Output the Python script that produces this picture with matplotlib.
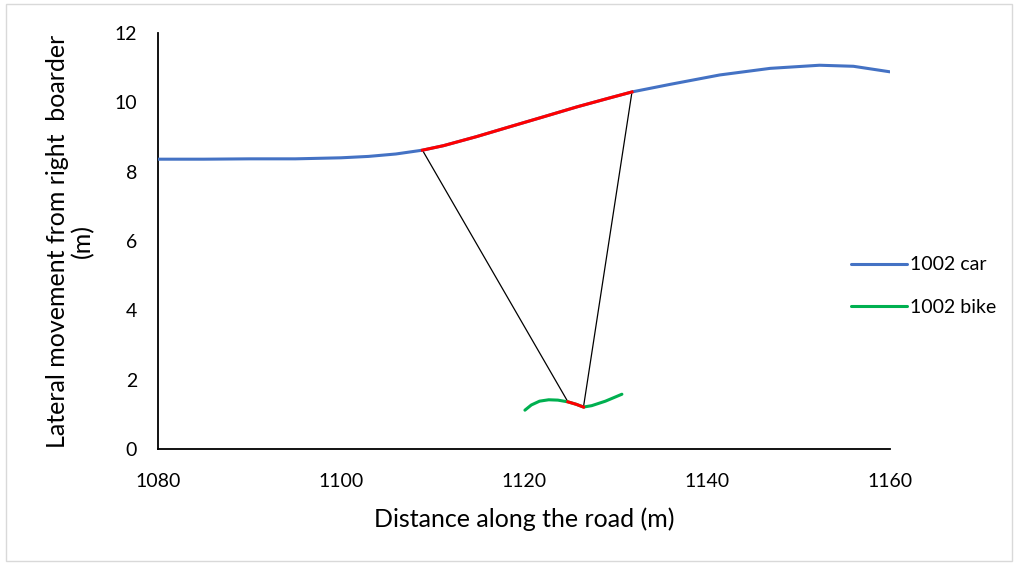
import matplotlib
matplotlib.use('Agg')
import matplotlib.pyplot as plt
from matplotlib.lines import Line2D
from matplotlib.patches import Rectangle

plt.rcParams['font.family'] = ['Lato', 'DejaVu Sans']

# 1002 car trajectory (distance, lateral position)
car_x = [1080, 1085, 1090, 1095, 1100, 1103, 1106, 1108.9, 1111.2, 1114.8, 1118.5, 1122.1,
         1125.8, 1129.4, 1131.8, 1136.0, 1141.4, 1146.9, 1152.3, 1156.0, 1160]
car_y = [8.36, 8.36, 8.37, 8.37, 8.40, 8.44, 8.51, 8.62, 8.75, 9.01, 9.30, 9.58,
         9.87, 10.13, 10.30, 10.52, 10.79, 10.98, 11.07, 11.04, 10.88]

# part of the car path in conflict (red)
car_conf_x = [1108.9, 1111.2, 1114.8, 1118.5, 1122.1, 1125.8, 1129.4, 1131.8]
car_conf_y = [8.62, 8.75, 9.01, 9.30, 9.58, 9.87, 10.13, 10.30]

# 1002 bike trajectory
bike_x = [1120.1, 1120.8, 1121.7, 1122.7, 1123.7, 1124.8, 1125.7, 1126.5, 1127.4, 1128.9, 1130.7]
bike_y = [1.12, 1.27, 1.38, 1.42, 1.41, 1.36, 1.29, 1.21, 1.25, 1.38, 1.58]

bike_conf_x = [1124.8, 1125.7, 1126.5]
bike_conf_y = [1.36, 1.29, 1.21]

# connection lines between car and bike conflict points
link_start = [(1108.9, 8.62), (1131.8, 10.30)]
link_end = [(1124.8, 1.36), (1126.5, 1.21)]

blue = '#4472C4'
green = '#00B050'
red = '#FF0000'

fig = plt.figure(figsize=(10.16, 5.64), dpi=100)
ax = fig.add_axes([158/1016, 1 - 449/564, (890-158)/1016, (449-33)/564])

ax.plot(car_x, car_y, color=blue, lw=2.2, solid_capstyle='round', solid_joinstyle='round', zorder=3)
ax.plot(bike_x, bike_y, color=green, lw=2.2, solid_capstyle='round', solid_joinstyle='round', zorder=3)
ax.plot(car_conf_x, car_conf_y, color=red, lw=2.2, solid_joinstyle='round', zorder=4)
ax.plot(bike_conf_x, bike_conf_y, color=red, lw=2.2, solid_joinstyle='round', zorder=4)
for (x0, y0), (x1, y1) in zip(link_start, link_end):
    ax.plot([x0, x1], [y0, y1], color='black', lw=0.9, zorder=2)

ax.set_xlim(1080, 1160)
ax.set_ylim(0, 12)
ax.set_xticks([1080, 1100, 1120, 1140, 1160])
ax.set_yticks([0, 2, 4, 6, 8, 10, 12])
ax.spines['top'].set_visible(False)
ax.spines['right'].set_visible(False)
ax.spines['left'].set_linewidth(1.3)
ax.spines['bottom'].set_linewidth(1.3)
ax.tick_params(axis='x', length=0, pad=17, labelsize=14)
ax.tick_params(axis='y', length=0, pad=15, labelsize=14)

ax.set_xlabel('Distance along the road (m)', fontsize=18, labelpad=13)
ax.set_ylabel('Lateral movement from right  boarder\n(m)', fontsize=18, labelpad=15,
              linespacing=1.08)

handles = [Line2D([], [], color=blue, lw=2.2, solid_capstyle='round'),
           Line2D([], [], color=green, lw=2.2, solid_capstyle='round')]
fig.legend(handles, ['1002 car', '1002 bike'], loc='center left',
           bbox_to_anchor=(833/1016, 1 - 286/564), frameon=False, fontsize=14,
           handlelength=2.9, handletextpad=0.15, labelspacing=1.3)

fig.patches.append(Rectangle((6/1016, 3/564), 1006/1016, 557/564, transform=fig.transFigure,
                             fill=False, edgecolor='#d9d9d9', lw=1))

fig.savefig('out.png', dpi=100)
